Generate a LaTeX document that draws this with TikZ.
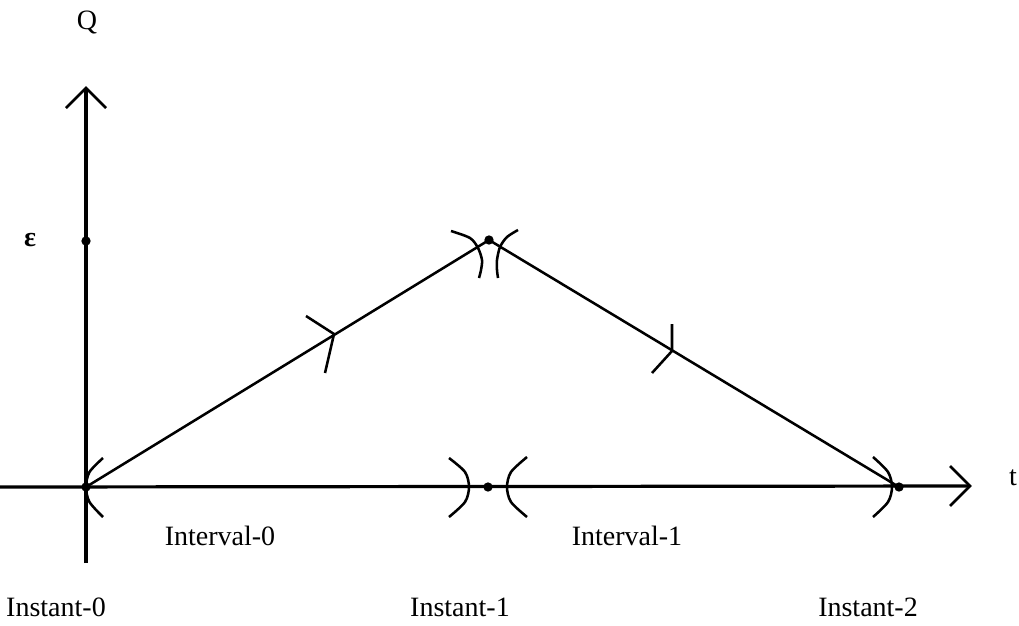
\documentclass[tikz,border=0pt]{standalone}
\usepackage{fontspec}
\setmainfont{Liberation Serif}
\begin{document}
\begin{tikzpicture}[x=0.75pt,y=-0.75pt,
  axis/.style={line width=3pt},
  seg/.style={line width=1.9pt},
  paren/.style={line width=1.9pt},
  lbl/.style={font=\fontsize{21}{25}\selectfont, inner sep=0pt},
  dotnode/.style={circle, fill=black, inner sep=0pt, minimum size=7pt}]
\useasboundingbox (0,0) rectangle (1019,625);
% key points
\coordinate (O) at (86,487);
\coordinate (P) at (489,240);
\coordinate (E) at (899,487);
\coordinate (M) at (488,487);
\coordinate (Ytop) at (86,88);
\coordinate (Ybot) at (86,563);
\coordinate (Xl) at (0,487);
\coordinate (Xr) at (970,486);
% axes
\draw[axis] (Ybot) -- (Ytop);
\draw[axis, line width=2.4pt] (Xl) -- (Xr);
\draw[seg] (66,108) -- (Ytop) -- (106,108);
\draw[seg] (950,466) -- (Xr) -- (950,506);
% slanted segments
\draw[seg] (O) -- (P) -- (E);
% direction marks
\draw[seg] (306,316) -- (334,334) -- (325,373);
\draw[seg] (672,324) -- (672,351) -- (652,373);
% parentheses
\draw[paren] plot[smooth] coordinates {(103,458) (89.5,472) (86,487) (89.5,502) (103,517)};
\draw[paren] plot[smooth] coordinates {(449,458) (465,472) (469,487) (465,502) (449,517)};
\draw[paren] plot[smooth] coordinates {(527,457) (511,472) (507,487) (511,502) (527,517)};
\draw[paren] plot[smooth] coordinates {(873,457) (888,472) (892,487) (888,502) (873,517)};
\draw[paren] plot[smooth] coordinates {(451,231) (470,238) (478,248) (482,260) (481,270) (479,278)};
\draw[paren] plot[smooth] coordinates {(518,230) (507,237) (500,247) (497,260) (497,270) (498,278)};
% dots
\node[dotnode] (dO) at (O) {};
\node[dotnode] (dP) at (P) {};
\node[dotnode] (dM) at (M) {};
\node[dotnode] (dE) at (E) {};
\node[dotnode] (dEps) at (86,241) {};
% labels
\node[lbl] (Q) at (87,22) {Q};
\node[lbl] (eps) at (30,240) {\textbf{ε}};
\node[lbl] (t) at (1013,478) {t};
\node[lbl] (int0) at (220,536) {Interval-0};
\node[lbl] (int1) at (627,536) {Interval-1};
\node[lbl] (ins0) at (56,607) {Instant-0};
\node[lbl] (ins1) at (460,607) {Instant-1};
\node[lbl] (ins2) at (868,607) {Instant-2};
\end{tikzpicture}
\end{document}
